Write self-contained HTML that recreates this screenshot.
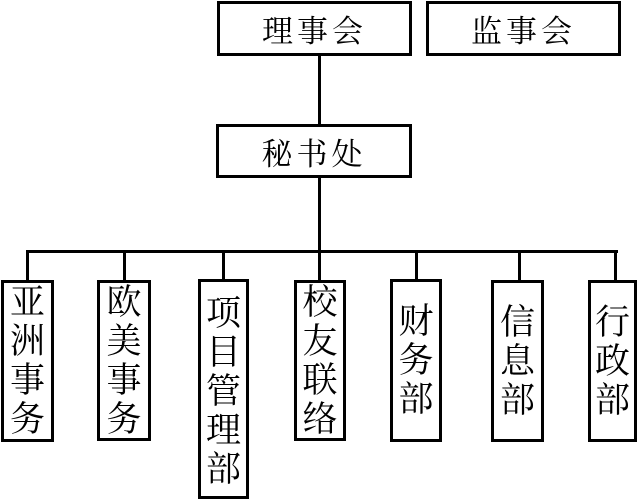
<!DOCTYPE html>
<html><head><meta charset="utf-8"><style>
body{margin:0;width:638px;height:497px;background:#fff;position:relative;overflow:hidden;font-family:"Liberation Serif","Noto Serif CJK SC",serif;}
.b{position:absolute;border:3px solid #000;box-sizing:border-box;background:#fff;display:flex;align-items:center;justify-content:center;color:#000}
.h{font-size:31px;letter-spacing:4px}
.v{flex-direction:column;font-size:35px;line-height:39px}
.l{position:absolute;background:#000}
</style></head><body>
<div class="l" style="left:318px;top:54px;width:3px;height:72px"></div>
<div class="l" style="left:318px;top:176px;width:3px;height:76px"></div>
<div class="l" style="left:26px;top:250px;width:592px;height:3px"></div>
<div class="l" style="left:26px;top:250px;width:3px;height:32px"></div>
<div class="l" style="left:123px;top:250px;width:3px;height:32px"></div>
<div class="l" style="left:222px;top:250px;width:3px;height:32px"></div>
<div class="l" style="left:318px;top:250px;width:3px;height:32px"></div>
<div class="l" style="left:415px;top:250px;width:3px;height:32px"></div>
<div class="l" style="left:518px;top:250px;width:3px;height:32px"></div>
<div class="l" style="left:614px;top:250px;width:3px;height:32px"></div>

<div class="b h" style="left:217px;top:1px;width:195px;height:55px">理事会</div>
<div class="b h" style="left:426px;top:1px;width:195px;height:55px">监事会</div>
<div class="b h" style="left:216px;top:124px;width:196px;height:54px">秘书处</div>

<div class="b v" style="left:1px;top:280px;width:53px;height:162px"><span>亚</span><span>洲</span><span>事</span><span>务</span></div>
<div class="b v" style="left:97px;top:280px;width:54px;height:161px"><span>欧</span><span>美</span><span>事</span><span>务</span></div>
<div class="b v" style="left:198px;top:279px;width:51px;height:220px;padding-top:4px"><span>项</span><span>目</span><span>管</span><span>理</span><span>部</span></div>
<div class="b v" style="left:294px;top:280px;width:52px;height:161px"><span>校</span><span>友</span><span>联</span><span>络</span></div>
<div class="b v" style="left:390px;top:279px;width:52px;height:163px"><span>财</span><span>务</span><span>部</span></div>
<div class="b v" style="left:491px;top:280px;width:53px;height:162px"><span>信</span><span>息</span><span>部</span></div>
<div class="b v" style="left:588px;top:280px;width:49px;height:162px"><span>行</span><span>政</span><span>部</span></div>
</body></html>
